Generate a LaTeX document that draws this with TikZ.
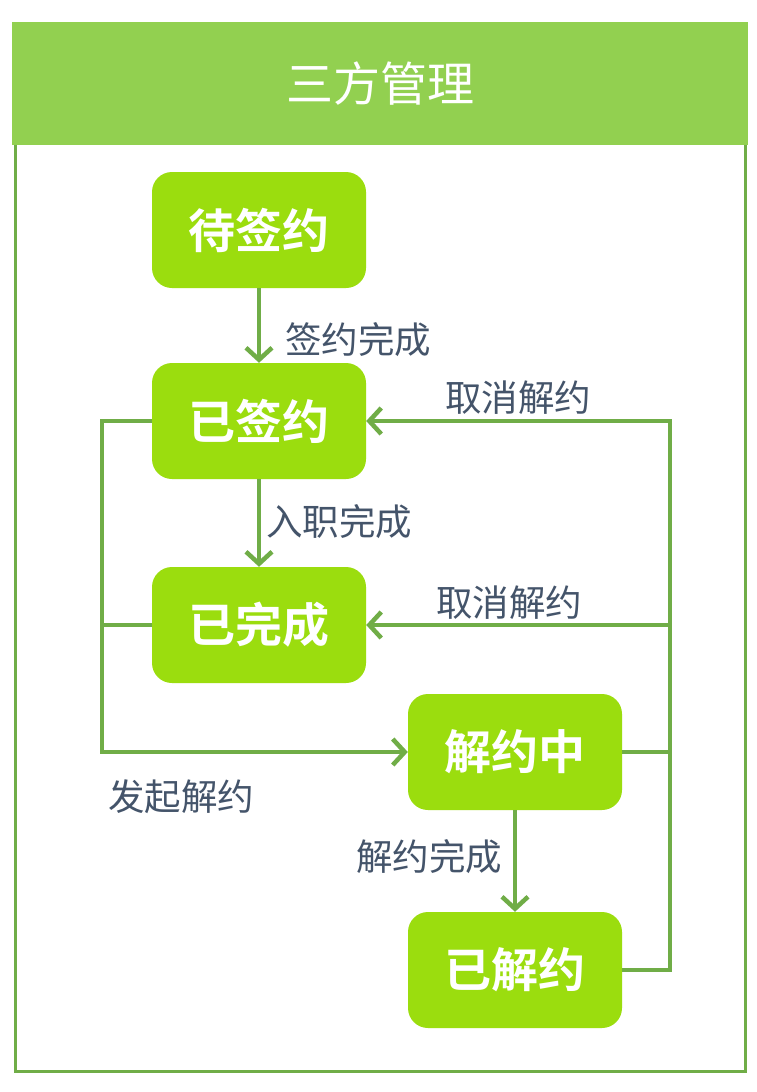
\documentclass[tikz,border=0pt]{standalone}
\usepackage{fontspec}
\newfontfamily\cjk{Noto Sans CJK SC}
\newfontfamily\cjkbold{Noto Sans CJK SC Bold}
\usetikzlibrary{arrows.meta}
\definecolor{boxgreen}{RGB}{155,221,14}
\definecolor{hdrgreen}{RGB}{146,208,80}
\definecolor{linegreen}{RGB}{112,173,71}
\definecolor{lbltext}{RGB}{68,84,106}
\tikzset{
  statebox/.style={rounded corners=20pt, fill=boxgreen, minimum width=214pt, minimum height=116pt,
    inner sep=0pt, text=white, font=\cjkbold\fontsize{47}{52}\selectfont},
  conn/.style={draw=linegreen, line width=4.5pt},
  arr/.style={-{Straight Barb[length=12pt,width=26pt]}},
  lbl/.style={anchor=west, inner sep=0pt, text=lbltext, font=\cjk\fontsize{36.5}{42}\selectfont},
  frameline/.style={draw=linegreen, line width=3pt},
}
\begin{document}
\begin{tikzpicture}[x=1pt,y=-1pt]
\useasboundingbox[fill=white] (0,0) rectangle (756,1092);
% frame
\draw[frameline] (15,145) -- (15,1071) -- (745,1071) -- (745,145);
\node[fill=hdrgreen, minimum width=736pt, minimum height=123pt, inner sep=0pt, anchor=north west,
  text=white, font=\cjk\fontsize{47}{52}\selectfont] (hdr) at (12,22) {三方管理};
% states
\node[statebox] (a) at (259,230) {待签约};
\node[statebox] (b) at (259,421) {已签约};
\node[statebox] (c) at (259,625) {已完成};
\node[statebox] (d) at (515,752) {解约中};
\node[statebox] (e) at (515,970) {已解约};
\coordinate (lx) at (102,0);
\coordinate (rx) at (670,0);
% connectors
\draw[conn,arr] (a) -- (b);
\draw[conn,arr] (b) -- (c);
\draw[conn,arr] (d) -- (e);
\draw[conn,arr] (b.west) -- (b.west -| lx) |- (d.west);
\draw[conn] (c.west) -- (c.west -| lx);
\draw[conn,arr] (e.east) -| (rx |- b.east) -- (b.east);
\draw[conn,arr] (c.east -| rx) -- (c.east);
\draw[conn] (d.east) -- (d.east -| rx);
% labels
\node[lbl] (l1) at (285,340) {签约完成};
\node[lbl] (l2) at (266,522) {入职完成};
\node[lbl] (l3) at (445,398) {取消解约};
\node[lbl] (l4) at (436,603) {取消解约};
\node[lbl] (l5) at (108,797) {发起解约};
\node[lbl] (l6) at (356,857) {解约完成};
\end{tikzpicture}
\end{document}
